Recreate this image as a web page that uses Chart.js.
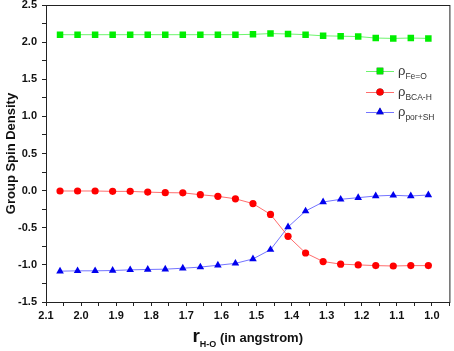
<!DOCTYPE html>
<html>
<head>
<meta charset="utf-8">
<script src="https://cdn.jsdelivr.net/npm/chart.js@4"></script>
<style>
  html, body { margin: 0; padding: 0; background: #fff; }
  #wrap { width: 454px; height: 351px; }
</style>
</head>
<body>
<div id="wrap"><canvas id="spinChart"></canvas></div>
<script>
const rHO = [2.06, 2.01, 1.96, 1.91, 1.86, 1.81, 1.76, 1.71, 1.66, 1.61, 1.56,
             1.51, 1.46, 1.41, 1.36, 1.31, 1.26, 1.21, 1.16, 1.11, 1.06, 1.01];
const rhoFeO = [2.10, 2.10, 2.10, 2.10, 2.10, 2.10, 2.10, 2.10, 2.10, 2.10, 2.10,
                2.105, 2.115, 2.11, 2.10, 2.085, 2.08, 2.075, 2.055, 2.05, 2.055, 2.05];
const rhoBCAH = [-0.005, -0.005, -0.005, -0.01, -0.01, -0.02, -0.027, -0.03, -0.055, -0.077, -0.11,
                 -0.175, -0.32, -0.615, -0.84, -0.955, -0.99, -1.0, -1.01, -1.015, -1.01, -1.01];
const rhoPorSH = [-1.085, -1.08, -1.08, -1.076, -1.067, -1.062, -1.058, -1.045, -1.03, -1.005, -0.98,
                  -0.92, -0.795, -0.49, -0.275, -0.153, -0.117, -0.095, -0.072, -0.063, -0.072, -0.059];
const legendNames = [['ρ', 'Fe=O'], ['ρ', 'BCA-H'], ['ρ', 'por+SH']];

const pts = ys => rHO.map((x, i) => ({ x, y: ys[i] }));
const FONT = '"Liberation Sans", Arial, sans-serif';

// box around the plot, titles with subscripts, legend
const extras = {
  id: 'extras',
  afterDraw(chart) {
    const { ctx, chartArea: a } = chart;
    ctx.save();
    ctx.strokeStyle = '#222';
    ctx.lineWidth = 1;
    ctx.strokeRect(a.left + 0.5, a.top + 0.5, a.right - a.left, a.bottom - a.top);

    ctx.fillStyle = '#111';
    // y title
    ctx.save();
    ctx.translate(11, (a.top + a.bottom) / 2);
    ctx.rotate(-Math.PI / 2);
    ctx.font = 'bold 13px ' + FONT;
    ctx.textAlign = 'center';
    ctx.textBaseline = 'middle';
    ctx.fillText('Group Spin Density', 0, 0);
    ctx.restore();

    // x title: r_{H-O} (in angstrom)
    const parts = [['r', 'bold 19px ' + FONT, 0], ['H-O', 'bold 9px ' + FONT, 5], [' (in angstrom)', 'bold 13px ' + FONT, 0]];
    let total = 0;
    parts.forEach(p => { ctx.font = p[1]; total += ctx.measureText(p[0]).width; });
    let x = (a.left + a.right) / 2 - total / 2;
    ctx.textAlign = 'left';
    ctx.textBaseline = 'alphabetic';
    parts.forEach(p => {
      ctx.font = p[1];
      ctx.fillText(p[0], x, 342 + p[2]);
      x += ctx.measureText(p[0]).width;
    });

    // legend
    const rows = [71, 92, 112];
    chart.data.datasets.forEach((ds, i) => {
      const y = rows[i];
      ctx.strokeStyle = ds.borderColor;
      ctx.lineWidth = 1;
      ctx.beginPath();
      ctx.moveTo(366, y + 0.5);
      ctx.lineTo(394, y + 0.5);
      ctx.stroke();
      Chart.helpers.drawPoint(ctx, {
        pointStyle: ds.pointStyle, radius: ds.pointRadius, borderWidth: 0
      }, 380, y);
      ctx.fillStyle = ds.pointBackgroundColor;
      ctx.fill();
      ctx.fillStyle = '#333';
      ctx.font = '13px ' + FONT;
      ctx.fillText(legendNames[i][0], 398, y + 4);
      const w = ctx.measureText(legendNames[i][0]).width;
      ctx.font = '8.5px ' + FONT;
      ctx.fillText(legendNames[i][1], 398 + w, y + 8);
    });
    ctx.restore();
  }
};

const ctx = document.getElementById('spinChart').getContext('2d');
new Chart(ctx, {
  type: 'line',
  data: {
    datasets: [{
      label: 'ρFe=O',
      data: pts(rhoFeO),
      borderColor: 'rgba(60, 240, 60, 0.75)',
      pointBackgroundColor: '#00ee00',
      pointBorderWidth: 0,
      pointStyle: 'rect',
      pointRadius: 4.6
    }, {
      label: 'ρBCA-H',
      data: pts(rhoBCAH),
      borderColor: 'rgba(255, 60, 60, 0.75)',
      pointBackgroundColor: '#ff0000',
      pointBorderWidth: 0,
      pointStyle: 'circle',
      pointRadius: 3.6
    }, {
      label: 'ρpor+SH',
      data: pts(rhoPorSH),
      borderColor: 'rgba(70, 70, 255, 0.75)',
      pointBackgroundColor: '#0000ee',
      pointBorderWidth: 0,
      pointStyle: 'triangle',
      pointRadius: 4.4
    }]
  },
  options: {
    responsive: true,
    maintainAspectRatio: false,
    animation: false,
    layout: { padding: { top: 5, right: 3, left: 0, bottom: 0 } },
    elements: { line: { borderWidth: 1, tension: 0 } },
    plugins: {
      legend: { display: false },
      tooltip: { enabled: false }
    },
    scales: {
      x: {
        type: 'linear',
        reverse: true,
        min: 0.95,
        max: 2.1,
        afterFit: s => { s.height = 49; s.paddingLeft = 0; s.paddingRight = 0; },
        grid: { drawOnChartArea: false, drawTicks: true, tickLength: 4, color: '#222' },
        border: { display: true, color: '#222' },
        ticks: {
          stepSize: 0.05,
          autoSkip: false,
          maxRotation: 0,
          padding: 3,
          color: '#111',
          font: { family: FONT, size: 11, weight: 'bold' },
          callback: v => Math.abs(v * 10 - Math.round(v * 10)) < 1e-6 ? v.toFixed(1) : ''
        }
      },
      y: {
        min: -1.5,
        max: 2.5,
        afterFit: s => { s.width = 46; s.paddingTop = 0; s.paddingBottom = 0; },
        grid: { drawOnChartArea: false, drawTicks: true, tickLength: 4, color: '#222' },
        border: { display: true, color: '#222' },
        ticks: {
          stepSize: 0.25,
          autoSkip: false,
          padding: 5,
          color: '#111',
          font: { family: FONT, size: 11, weight: 'bold' },
          callback: v => Math.abs(v * 2 - Math.round(v * 2)) < 1e-6 ? v.toFixed(1) : ''
        }
      }
    }
  },
  plugins: [extras]
});
</script>
</body>
</html>
